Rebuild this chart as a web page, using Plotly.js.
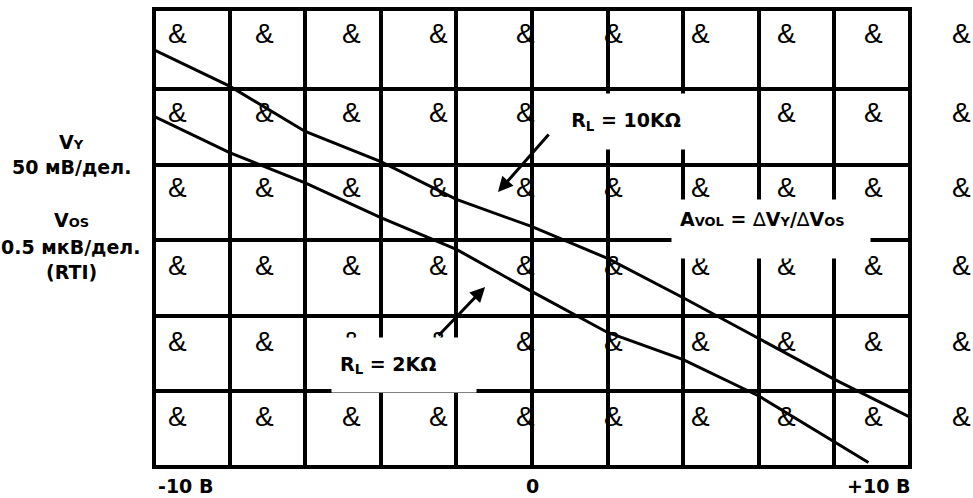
<!DOCTYPE html>
<html>
<head>
<meta charset="utf-8">
<script src="https://cdn.plot.ly/plotly-3.0.1.min.js"></script>
<style>
  html, body { margin: 0; padding: 0; background: #fff; }
  #chart { width: 973px; height: 498px; }
</style>
</head>
<body>
<div id="chart"></div>
<script>
// входное напряжение, В (2 В/дел.)
var xIn = [-10, -8, -6, -4, -2, 0, 2, 4, 6, 8, 10];
// V_Y, мВ (50 мВ/дел.) при R_L = 10 кОм
var vy10k = [276, 252, 222, 202, 177, 159, 138, 112, 85, 58, 33];
// V_Y, мВ при R_L = 2 кОм
var xIn2k = [-10, -8, -6, -4, -2, 0, 2, 4, 6, 8, 8.9];
var vy2k = [232, 208, 188, 165, 144, 116, 89, 71, 47, 17, 3];

var xTickVals = [-10, 0, 10];
var xTickText = ['-10 В', '0', '+10 В'];
var yGrid = [50, 100, 150, 200, 250];

// plot area in pixels
var L = 154, R = 910, T = 9, B = 467;
function pxX(px) { return (px - L) / (R - L); }
function pxY(py) { return (B - py) / (B - T); }

var boldFont = {family: 'DejaVu Sans', size: 19, color: '#000', weight: 'bold'};
// small subscript that stays on the baseline
function sm(s) { return '<span style="font-size:13px">' + s + '</span>'; }
var delta = '<span style="font-weight:normal">∆</span>';

var trace1 = {
  x: xIn,
  y: vy10k,
  type: 'scatter',
  mode: 'lines',
  line: {color: '#000', width: 3},
  hoverinfo: 'none'
};

var trace2 = {
  x: xIn2k,
  y: vy2k,
  type: 'scatter',
  mode: 'lines',
  line: {color: '#000', width: 3},
  hoverinfo: 'none'
};

var annotations = [];

// the stray "&" glyphs scattered over the grid
var ampCols = [177, 264, 351, 438, 525, 613, 700, 786, 873, 961];
var ampRows = [33, 113, 188, 265, 341, 416];
ampRows.forEach(function (py) {
  ampCols.forEach(function (px) {
    annotations.push({
      xref: 'paper', yref: 'paper', x: pxX(px), y: pxY(py),
      text: '&', showarrow: false, xanchor: 'center', yanchor: 'middle',
      font: {family: 'Liberation Sans', size: 28, color: '#000'}
    });
  });
});

// labels on the left
var leftLabels = [
  ['V' + sm('Y'), 142],
  ['50 мВ/дел.', 167],
  ['V' + sm('OS'), 220],
  ['0.5 мкВ/дел.', 247],
  ['(RTI)', 272]
];
leftLabels.forEach(function (l) {
  annotations.push({
    xref: 'paper', yref: 'paper', x: pxX(71), y: pxY(l[1]),
    text: l[0], showarrow: false, xanchor: 'center', yanchor: 'middle', font: boldFont
  });
});

// x labels under the grid
var xAnchors = ['left', 'center', 'right'];
var xShifts = [2, 0, 2];
xTickVals.forEach(function (v, i) {
  annotations.push({
    xref: 'x', yref: 'paper', x: v, y: pxY(486),
    text: xTickText[i], showarrow: false, xanchor: xAnchors[i], yanchor: 'middle',
    xshift: xShifts[i], font: boldFont
  });
});

// white label boxes
annotations.push({
  xref: 'x', yref: 'y', x: 2.49, y: 228.6,
  text: 'R<sub>L</sub> = 10KΩ', showarrow: false,
  width: 172, height: 55, borderpad: 0, bgcolor: '#fff', align: 'center',
  font: boldFont
});
annotations.push({
  xref: 'x', yref: 'y', x: -3.39, y: 67.5,
  text: 'R<sub>L</sub> = 2KΩ', showarrow: false,
  width: 128, height: 38, borderpad: 8, bgcolor: '#fff', align: 'left',
  font: boldFont
});
annotations.push({
  xref: 'x', yref: 'y', x: 6.32, y: 157.4,
  text: 'A' + sm('VOL') + ' = ' + delta + 'V' + sm('Y') + '/' + delta + 'V' + sm('OS'),
  showarrow: false,
  width: 182, height: 42, borderpad: 8, bgcolor: '#fff', align: 'left', valign: 'top',
  font: boldFont
});

// arrows
annotations.push({
  xref: 'x', yref: 'y', x: -0.90, y: 181.9, ax: 52, ay: -59,
  text: '', showarrow: true, arrowhead: 2, arrowsize: 1, arrowwidth: 3, arrowcolor: '#000'
});
annotations.push({
  xref: 'x', yref: 'y', x: -1.24, y: 119.1, ax: -48, ay: 50,
  text: '', showarrow: true, arrowhead: 2, arrowsize: 1, arrowwidth: 3, arrowcolor: '#000'
});

var layout = {
  width: 973,
  height: 498,
  margin: {l: L, r: 973 - R, t: T, b: 498 - B},
  paper_bgcolor: '#fff',
  plot_bgcolor: '#fff',
  showlegend: false,
  xaxis: {
    range: [-10, 10],
    tickmode: 'linear', tick0: -8, dtick: 2,
    showgrid: true, gridcolor: '#000', gridwidth: 4,
    zeroline: false, showline: false, showticklabels: false, ticks: ''
  },
  yaxis: {
    range: [0, 303],
    tickmode: 'array', tickvals: yGrid,
    showgrid: true, gridcolor: '#000', gridwidth: 4,
    zeroline: false, showline: false, showticklabels: false, ticks: ''
  },
  shapes: [{
    type: 'rect', xref: 'paper', yref: 'paper', x0: 0, x1: 1, y0: 0, y1: 1,
    line: {color: '#000', width: 4}, layer: 'above'
  }],
  annotations: annotations
};

Plotly.newPlot('chart', [trace1, trace2], layout, {displayModeBar: false, staticPlot: true});
</script>
</body>
</html>
